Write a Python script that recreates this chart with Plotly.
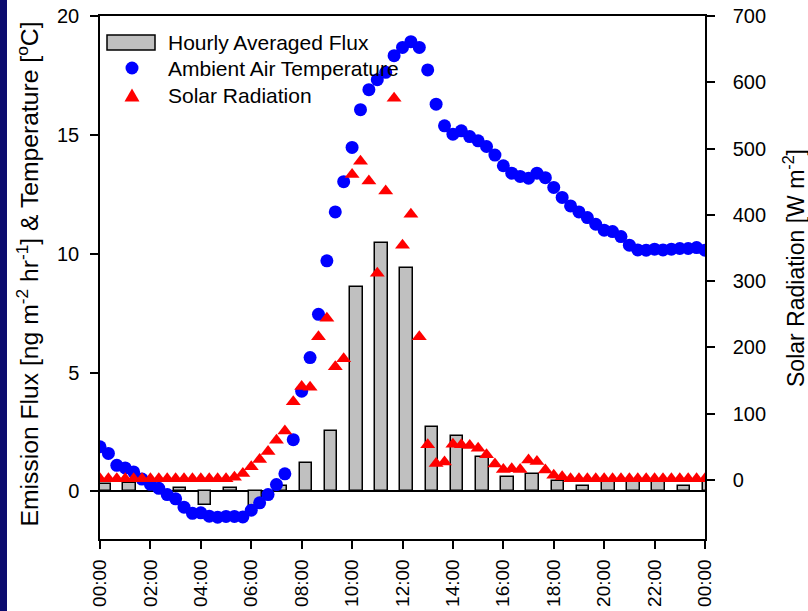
import pandas as pd
import plotly.graph_objects as go

# ---- data -------------------------------------------------------------
DAY_START = "2000-01-01 00:00"
DAY_END = "2000-01-02 00:00"

# ambient air temperature, one reading every 20 minutes (degC)
temperature = [1.88, 1.60, 1.10, 0.99, 0.82, 0.52, 0.30, 0.13, -0.13, -0.31,
               -0.66, -0.92, -0.90, -1.04, -1.08, -1.05, -1.05, -1.07, -0.79, -0.48,
               -0.13, 0.29, 0.74, 2.18, 4.22, 5.63, 7.45, 9.70, 11.76, 13.03,
               14.47, 16.06, 16.90, 17.32, 17.63, 18.33, 18.68, 18.92, 18.68, 17.73,
               16.29, 15.38, 15.03, 15.17, 14.93, 14.75, 14.51, 14.15, 13.70, 13.39,
               13.25, 13.18, 13.39, 13.20, 12.79, 12.37, 12.01, 11.76, 11.52, 11.24,
               10.99, 10.93, 10.72, 10.36, 10.16, 10.15, 10.19, 10.16, 10.19, 10.22,
               10.22, 10.26, 10.15]

# solar radiation on the same 20-minute grid (W m-2)
radiation = [2, 2, 2, 2, 2, 2, 2, 2, 2, 2,
             2, 2, 2, 2, 2, 2, 4, 10, 20, 31,
             43, 60, 74, 118, 141, 140, 216, 244, 171, 183,
             461, 481, 451, 312, 436, 576, 354, 401, 216, 53,
             25, 27, 54, 53, 52, 48, 38, 24, 16, 17,
             16, 30, 28, 15, 7, 5, 2, 2, 2, 2,
             2, 2, 2, 2, 2, 2, 2, 2, 2, 2,
             2, 2, 2]

# hourly averaged emission flux (ng m-2 hr-1), hours 00 .. 24
flux = [0.32, 0.37, 0.00, 0.15, -0.59, 0.15, -0.60, 0.21, 1.19, 2.54,
        8.62, 10.47, 9.38, 2.72, 2.33, 1.45, 0.60, 0.75, 0.42, 0.25,
        0.45, 0.45, 0.45, 0.25, 0.40]

tick_hours = ["00:00", "02:00", "04:00", "06:00", "08:00", "10:00", "12:00",
              "14:00", "16:00", "18:00", "20:00", "22:00", "00:00"]

reading_times = pd.date_range(DAY_START, periods=len(temperature), freq="20min")
flux_times = pd.date_range("2000-01-01 00:10", periods=len(flux), freq="h")
tick_times = pd.date_range(DAY_START, periods=len(tick_hours), freq="2h")

# ---- page geometry -----------------------------------------------------
W, H = 808, 611
L, R, T, B = 100, 103, 16, 72
PW, PH = W - L - R, H - T - B


def px(x):
    return (x - L) / PW


def py(y):
    return (H - B - y) / PH


FONT = "Liberation Sans, Arial, Helvetica, sans-serif"
BLUE, RED, GREY = "#0000FF", "#FF0000", "#C0C0C0"

fig = go.Figure()

fig.add_trace(go.Bar(
    x=flux_times, y=flux, width=30 * 60 * 1000,
    marker=dict(color=GREY, line=dict(color="black", width=1.5)),
    name="Hourly Averaged Flux", showlegend=False,
))
fig.add_trace(go.Scatter(
    x=reading_times, y=temperature, mode="markers",
    marker=dict(color=BLUE, size=13, symbol="circle"),
    name="Ambient Air Temperature", showlegend=False,
))
fig.add_trace(go.Scatter(
    x=reading_times, y=radiation, mode="markers", yaxis="y2",
    marker=dict(color=RED, size=13, symbol="triangle-up"),
    name="Solar Radiation", showlegend=False,
))

axis_common = dict(showline=True, linecolor="black", linewidth=1.5,
                   ticks="outside", ticklen=8, tickwidth=1.5, tickcolor="black",
                   showgrid=False, automargin=False)

fig.update_layout(
    width=W, height=H,
    margin=dict(l=L, r=R, t=T, b=B, pad=0, autoexpand=False),
    paper_bgcolor="white", plot_bgcolor="white",
    font=dict(family=FONT, color="black", size=20),
    bargap=0,
    xaxis=dict(type="date", range=[DAY_START, DAY_END],
               tickvals=list(tick_times), ticktext=tick_hours, tickangle=-90,
               tickfont=dict(size=19), mirror=True, zeroline=False,
               ticklabelstandoff=3, **axis_common),
    yaxis=dict(range=[-2, 20], tickvals=[0, 5, 10, 15, 20],
               tickfont=dict(size=20), zeroline=True, zerolinecolor="black",
               zerolinewidth=1.5, ticklabelstandoff=7, **axis_common),
    yaxis2=dict(range=[-89, 700], tickvals=[0, 100, 200, 300, 400, 500, 600, 700],
                overlaying="y", side="right", tickfont=dict(size=20),
                zeroline=False, ticklabelstandoff=14, **axis_common),
)

# axis titles
fig.add_annotation(
    text="Emission Flux [ng m<sup>-2</sup> hr<sup>-1</sup>] & Temperature [<sup>o</sup>C]",
    xref="paper", yref="paper", x=px(27), y=py(274.5), textangle=-90,
    xanchor="center", yanchor="middle", showarrow=False, font=dict(size=24.7),
)
fig.add_annotation(
    text="Solar Radiation [W m<sup>-2</sup>]",
    xref="paper", yref="paper", x=px(794), y=py(268), textangle=-90,
    xanchor="center", yanchor="middle", showarrow=False, font=dict(size=23),
)

# legend box inside the plot
fig.add_shape(type="rect", xref="paper", yref="paper",
              x0=px(107), x1=px(155), y0=py(50), y1=py(35),
              fillcolor=GREY, line=dict(color="black", width=1.5))
fig.add_shape(type="circle", xref="paper", yref="paper",
              x0=px(125.5), x1=px(138.5), y0=py(74.5), y1=py(61.5),
              fillcolor=BLUE, line=dict(width=0))
fig.add_shape(type="path", xref="paper", yref="paper",
              path=f"M {px(124.5)},{py(101.5)} L {px(139.5)},{py(101.5)} "
                   f"L {px(132)},{py(88.5)} Z",
              fillcolor=RED, line=dict(width=0))
for label, yc in [("Hourly Averaged Flux", 43), ("Ambient Air Temperature", 68),
                  ("Solar Radiation", 95)]:
    fig.add_annotation(text=label, xref="paper", yref="paper", x=px(166), y=py(yc),
                       xanchor="left", yanchor="middle", showarrow=False,
                       font=dict(size=21))

# dark page edge on the left
fig.add_shape(type="rect", xref="paper", yref="paper",
              x0=px(0), x1=px(7), y0=py(H + 5), y1=py(-5),
              fillcolor="#0B0B6E", line=dict(width=0), layer="above")

fig.write_html("out.html")
